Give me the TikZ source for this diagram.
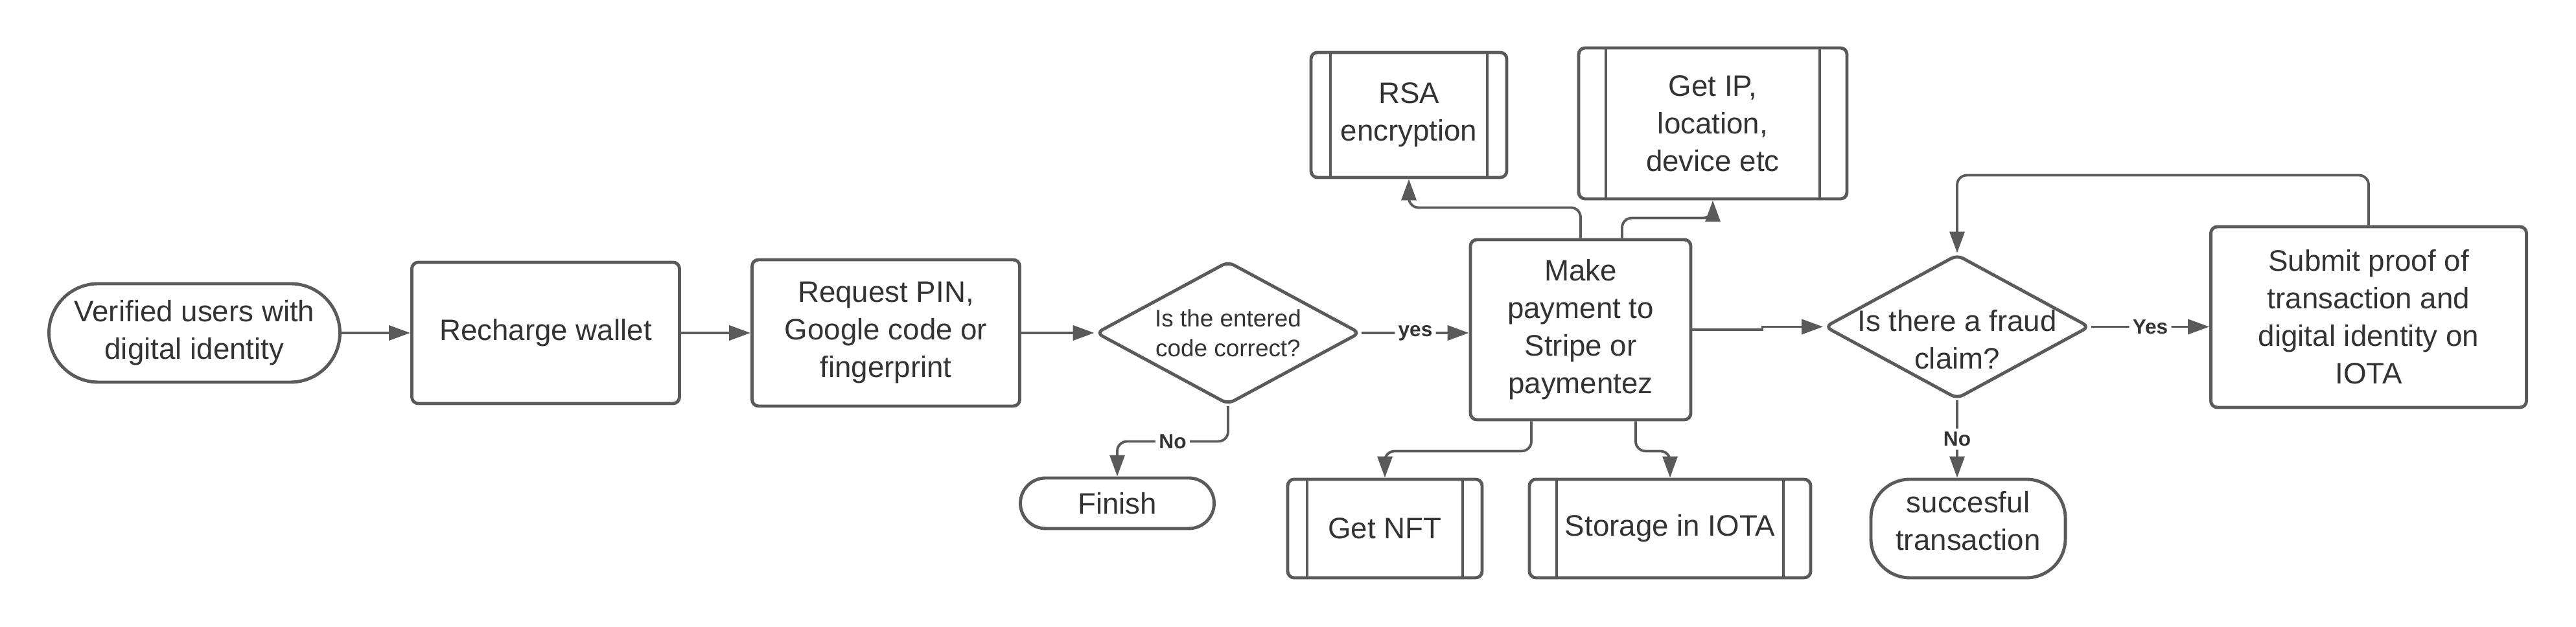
\documentclass[tikz,border=0pt]{standalone}
\usepackage{fontspec}
\setmainfont{Liberation Sans}
\usetikzlibrary{positioning, arrows.meta, shapes.geometric}
\definecolor{edge}{HTML}{5A5A5A}
\definecolor{ink}{HTML}{333333}

\begin{document}
\begin{tikzpicture}[
    box/.style={draw=edge, line width=1.4pt, text=ink, align=center, inner sep=0pt,
                font=\fontsize{13}{16.5}\selectfont, rectangle, rounded corners=1mm},
    term/.style={box, rounded corners=#1},
    term/.default=7mm,
    subproc/.style={box, path picture={
        \draw[draw=edge, line width=1.4pt]
          ([xshift=#1]path picture bounding box.north west) -- ([xshift=#1]path picture bounding box.south west)
          ([xshift=-#1]path picture bounding box.north east) -- ([xshift=-#1]path picture bounding box.south east);}},
    subproc/.default=3mm,
    decision/.style={draw=edge, line width=1.4pt, diamond, aspect=1, inner sep=0pt, rounded corners=1mm},
    dtext/.style={draw=none, text=ink, align=center, inner sep=0pt},
    conn/.style={draw=edge, line width=1.1pt, rounded corners=1.5mm, -{Triangle[length=3.3mm, width=2.3mm]}},
    lbl/.style={draw=none, fill=white, text=ink, inner sep=1.5pt, font=\bfseries\fontsize{9}{10}\selectfont}]

    \useasboundingbox (0,0) rectangle (39.75,9.68);

    % main row
    \node[term=7.6mm, minimum width=4.49cm, minimum height=1.52cm] (start) at (3.00,4.54) {Verified users with\\digital identity};
    \node[box, minimum width=4.13cm, minimum height=2.18cm] (recharge) at (8.42,4.54) {Recharge wallet};
    \node[box, minimum width=4.13cm, minimum height=2.26cm] (req) at (13.67,4.54) {Request PIN,\\Google code or\\fingerprint};
    \node[decision, minimum width=4.08cm, minimum height=2.21cm,
          label={[dtext, font=\fontsize{10.5}{13}\selectfont]center:Is the entered\\code correct?}] (check) at (18.95,4.54) {};
    \node[box, minimum width=3.40cm, minimum height=2.78cm] (pay) at (24.39,4.59) {Make\\payment to\\Stripe or\\paymentez};
    \node[decision, minimum width=4.09cm, minimum height=2.23cm,
          label={[dtext, yshift=-2mm, font=\fontsize{13}{16.5}\selectfont]center:Is there a fraud\\claim?}] (fraud) at (30.20,4.635) {};
    \node[box, minimum width=4.87cm, minimum height=2.79cm] (proof) at (36.55,4.785) {Submit proof of\\transaction and\\digital identity on\\IOTA};

    % sub processes
    \node[subproc=3mm, minimum width=3.02cm, minimum height=1.93cm] (rsa) at (21.74,7.905) {RSA\\encryption};
    \node[subproc=4.2mm, minimum width=4.14cm, minimum height=2.33cm] (ip) at (26.43,7.775) {Get IP,\\location,\\device etc};
    \node[subproc=3mm, minimum width=3.00cm, minimum height=1.52cm] (nft) at (21.37,1.52) {Get NFT};
    \node[subproc=4.2mm, minimum width=4.34cm, minimum height=1.52cm] (store) at (25.77,1.52) {Storage in IOTA};

    % end points
    \node[term=3.9mm, minimum width=2.99cm, minimum height=0.78cm] (finish) at (17.24,1.91) {Finish};
    \node[term=6mm, minimum width=3.00cm, minimum height=1.52cm,
          label={[dtext, yshift=1.2mm, font=\fontsize{13}{16.5}\selectfont]center:succesful\\transaction}] (ok) at (30.37,1.52) {};

    % connectors
    \draw[conn] (start) -- (recharge);
    \draw[conn] (recharge) -- (req);
    \draw[conn] (req) -- (check);
    \draw[conn] (check.east) -- node[lbl]{yes} (check.east -| pay.west);
    \draw[conn] (check.south) -- ++(0,-0.545) -| node[lbl, pos=0.25]{No} (finish.north);
    \draw[conn] (pay.north) -- ++(0,0.47) -| (rsa.south);
    \draw[conn] ([xshift=6.4mm]pay.north) -- ++(0,0.31) -| (ip.south);
    \draw[conn] ([xshift=-7.6mm]pay.south) -- ++(0,-0.46) -| (nft.north);
    \draw[conn] ([xshift=8.5mm]pay.south) -- ++(0,-0.46) -| (store.north);
    \draw[conn, rounded corners=0pt] (pay.east) -- ++(1.08,0) |- (fraud.west);
    \draw[conn] (fraud.east) -- node[lbl]{Yes} (fraud.east -| proof.west);
    \draw[conn] (proof.north) -- ++(0,0.77) -| (fraud.north);
    \draw[conn] (fraud.south) -- node[lbl]{No} (fraud.south |- ok.north);
\end{tikzpicture}
\end{document}
